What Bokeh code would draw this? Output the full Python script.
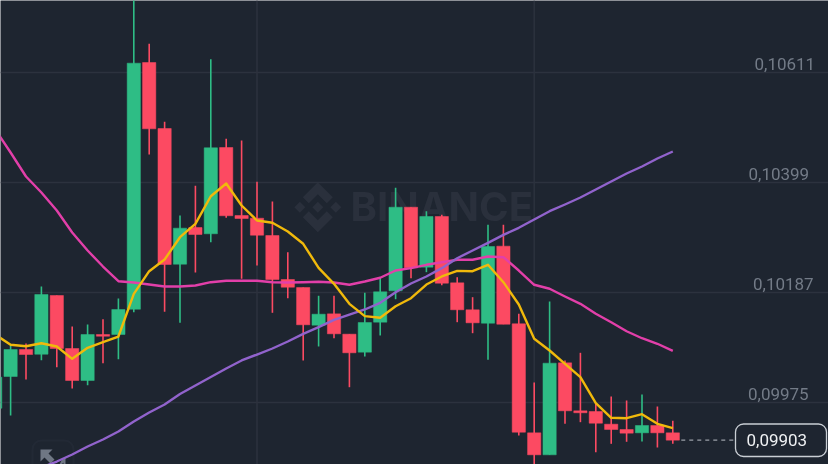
from bokeh.plotting import figure
from bokeh.models import Label, ColumnDataSource, BoxAnnotation, Span
from bokeh.embed import file_html
from bokeh.resources import INLINE
from bokeh.core.properties import value

# Prices in units of 0.00001, first candle is partly off-screen
opens = [9964.0,10025.1,10077.2,10068.1,10181.2,10079.1,10017.4,10106.1,10106.1,10154.8,10630.3,10503.1,10241.6,10312.3,10300.2,10466.5,10335.4,10330.2,10296.9,10212.1,10196.7,10124.0,10145.9,10106.7,10072.0,10129.8,10190.3,10351.4,10235.8,10333.5,10205.7,10153.7,10127.9,10276.3,10126.7,9916.6,9874.2,10051.5,9959.0,9957.7,9933.2,9923.0,9916.6,9930.7,9916.6]
highs = [10023.8,10084.9,10088.7,10198.6,10181.2,10121.5,10125.4,10135.6,10175.5,10759.4,10666.3,10516.0,10335.4,10392.7,10636.7,10483.3,10480.0,10400.4,10362.4,10264.7,10196.7,10180.7,10180.7,10106.7,10186.5,10215.4,10388.8,10351.4,10343.7,10336.8,10216.5,10178.0,10317.5,10317.5,10145.9,10013.6,10169.7,10056.0,10070.8,9972.5,9986.6,9978.9,9990.4,9967.3,9939.8]
lows = [9964.0,9950.0,10019.4,10056.6,10043.1,10002.0,10008.4,10050.8,10058.5,10149.1,10453.0,10149.8,10128.6,10225.6,10284.0,10331.0,10213.4,10239.1,10147.9,10176.0,10056.0,10083.0,10098.9,10004.5,10063.7,10104.2,10174.1,10214.6,10226.2,10201.1,10129.8,10108.6,10057.3,10125.9,9911.4,9847.8,9874.2,9934.0,9937.1,9879.2,9895.4,9899.3,9899.9,9888.3,9895.4]
closes = [10023.8,10077.2,10067.5,10183.2,10079.1,10017.4,10106.1,10102.8,10154.3,10629.0,10502.5,10241.0,10311.0,10298.8,10465.9,10334.9,10329.6,10297.5,10212.1,10197.2,10124.8,10145.2,10107.4,10070.8,10129.2,10188.4,10351.4,10234.6,10333.5,10205.0,10153.7,10128.6,10275.7,10125.9,9917.8,9874.2,10050.8,9959.0,9955.2,9935.1,9923.0,9915.9,9930.7,9916.6,9902.4]
ma_yellow = [10106.1,10086.2,10083.5,10089.3,10083.0,10059.2,10080.5,10091.2,10102.2,10184.5,10228.1,10250.6,10293.6,10319.4,10372.6,10397.1,10354.7,10325.8,10321.4,10304.6,10280.9,10234.6,10203.8,10165.2,10141.4,10138.3,10160.6,10176.0,10202.4,10217.9,10228.8,10228.1,10240.4,10206.9,10163.9,10097.8,10075.2,10049.6,10023.8,9973.7,9945.5,9944.8,9952.5,9934.0,9925.5]
ma_pink = [10501.2,10456.8,10410.6,10379.8,10345.1,10302.7,10268.0,10237.1,10208.8,10206.3,10202.4,10198.6,10198.6,10200.5,10206.9,10209.6,10209.6,10209.6,10206.9,10206.3,10206.9,10207.7,10206.3,10201.9,10208.2,10215.4,10229.4,10233.9,10240.4,10245.4,10250.1,10250.1,10256.4,10255.1,10229.4,10201.9,10194.2,10179.3,10165.2,10146.0,10129.8,10112.4,10098.9,10088.2,10074.7]
ma_purple = [9849.7,9861.3,9874.8,9890.2,9903.7,9919.1,9938.4,9955.8,9971.2,9991.4,10007.8,10024.2,10040.6,10056.0,10067.5,10079.1,10092.6,10107.4,10120.2,10134.4,10144.6,10154.3,10167.2,10187.6,10204.4,10217.9,10233.9,10253.1,10268.0,10282.8,10298.2,10311.7,10327.7,10343.7,10356.6,10370.1,10385.5,10401.0,10416.4,10429.9,10445.3,10458.8]
tick_prices = [10611, 10399, 10187, 9975]
tick_labels = ["0,10611", "0,10399", "0,10187", "0,09975"]
last_label = "0,09903"
purple_start = 3

BG = "#1e2530"; GRID = "#2c323e"; GREEN = "#2ebd85"; RED = "#fc4a62"
W, H = 828, 464
x0 = 0.344; x1 = x0 + W / 15.4
ytop = 10749.8; ybot = ytop - H * 1.9273

p = figure(width=W, height=H, output_backend="svg", toolbar_location=None,
           x_range=(x0, x1), y_range=(ybot, ytop), min_border=0,
           background_fill_color=BG, border_fill_color=BG, outline_line_color=None,
           styles={"position": "fixed", "left": "0", "top": "0"})
p.axis.visible = False
p.grid.visible = False

def px(x, y):
    return x0 + x / 15.4, ytop - y * 1.9273

# grid
for t in tick_prices:
    p.add_layout(Span(location=t, dimension="width", line_color=GRID, line_width=1.5, level="underlay"))
for i in (17, 35):
    p.add_layout(Span(location=i, dimension="height", line_color=GRID, line_width=1.5, level="underlay"))

# watermark
WM = "#2a303c"
cx, cy = 317.3, 206.7
shapes = [
    [(0,-5.5),(5.5,0),(0,5.5),(-5.5,0)],
    [(-18,-5.5),(-12.5,0),(-18,5.5),(-23.5,0)],
    [(18,-5.5),(23.5,0),(18,5.5),(12.5,0)],
    [(0,-25),(15,-10),(9,-4),(0,-13),(-9,-4),(-15,-10)],
    [(0,25),(15,10),(9,4),(0,13),(-9,4),(-15,10)],
]
xs, ys = [], []
for s in shapes:
    pts = [px(cx + a, cy + b) for a, b in s]
    xs.append([q[0] for q in pts]); ys.append([q[1] for q in pts])
p.patches(xs, ys, fill_color=WM, line_color=None, level="underlay")
wm = Label(x=350, y=H - 206, x_units="screen", y_units="screen", text="BINANCE", text_color=WM,
           text_font="Inter", text_font_style="bold", text_font_size="40px",
           text_baseline="middle", level="underlay")
p.add_layout(wm)

# corner button
p.add_layout(BoxAnnotation(left=x0 + 32/15.4, right=x0 + 73/15.4, top=ytop - 440*1.9273, bottom=ytop - 480*1.9273,
                           fill_color=None, line_color="#2f3642", line_width=2, border_radius=9, level="underlay"))
ARROW = "#6f7784"
a1 = [px(*q) for q in [(40,449),(52,449),(48,453),(54,459),(50,463),(44,457),(40,461)]]
p.patch([q[0] for q in a1], [q[1] for q in a1], fill_color=ARROW, line_color=None, level="underlay")
a2 = [px(*q) for q in [(59,464),(61,464),(63,462),(63,464),(65,464),(65,457),(63,459),(62,458)]]
p.patch([q[0] for q in a2], [q[1] for q in a2], fill_color=ARROW, line_color=None, level="underlay")

# candles
n = len(opens)
idx = list(range(n))
colors = [GREEN if c >= o else RED for o, c in zip(opens, closes)]
src = ColumnDataSource(dict(x=idx, o=opens, h=highs, l=lows, c=closes, color=colors,
                            top=[max(a, b) for a, b in zip(opens, closes)],
                            bottom=[min(a, b) for a, b in zip(opens, closes)]))
p.segment("x", "h", "x", "l", color="color", line_width=1.6, source=src)
p.vbar("x", 0.86, "top", "bottom", fill_color="color", line_color="color", line_width=0.5, source=src)

# moving averages
p.line(idx, ma_pink, line_color="#e23fa9", line_width=2.4, line_join="round")
p.line(list(range(purple_start, purple_start + len(ma_purple))), ma_purple, line_color="#9163cc", line_width=2.4, line_join="round")
p.line(idx, ma_yellow, line_color="#f0b90b", line_width=2.4, line_join="round")

# last price
p.segment(n - 0.45, closes[-1], x0 + 735/15.4, closes[-1], line_color="#9aa0a8", line_width=1.2, line_dash="4 4")
for t, s, left in zip(tick_prices, tick_labels, (754, 748, 752.5, 747.5)):
    p.add_layout(Label(x=left, y=t, x_units="screen", y_units="data", y_offset=9, text=s, text_color="#737b87",
                       text_font="Roboto", text_font_size="17px", text_align="left", text_baseline="middle"))
bt, bb = ytop - 423.5*1.9273, ytop - 456*1.9273
p.add_layout(BoxAnnotation(left=x0 + 735/15.4, right=x0 + 826/15.4, top=bt, bottom=bb, fill_color=BG, fill_alpha=1,
                           line_color="#c9ced4", line_alpha=1, line_width=1.3, border_radius=8))
p.add_layout(Label(x=746, y=closes[-1], x_units="screen", y_units="data", text=last_label, text_color="#eef0f2",
                   text_font="Roboto", text_font_size="17px", text_align="left", text_baseline="middle"))

html = file_html(p, INLINE)
open("out.html", "w").write(html)
